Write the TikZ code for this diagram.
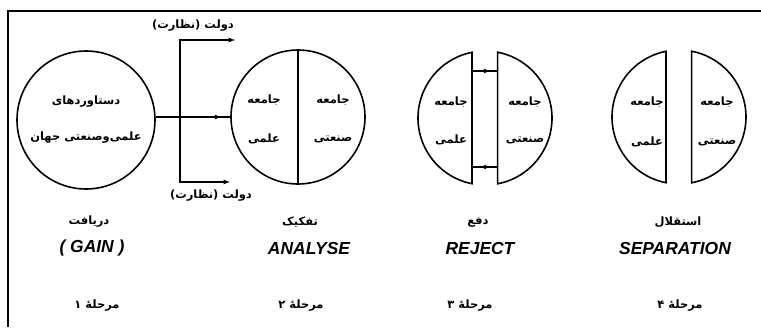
\documentclass[tikz,border=0pt]{standalone}
\usepackage{fontspec}
\newfontfamily\arabicfont[Script=Arabic]{DejaVu Sans}
\newfontfamily\latinfont{Liberation Sans}
\TeXXeTstate=1
\usetikzlibrary{decorations.markings}
\newcommand\rl[1]{\beginR #1\endR}

\begin{document}
\begin{tikzpicture}[x=1bp,y=-1bp,line width=1.2pt,
  fa/.style={font=\arabicfont\bfseries\fontsize{11.5}{13}\selectfont,inner sep=1pt},
  en/.style={font=\latinfont\bfseries\itshape\fontsize{17.5}{20}\selectfont,inner sep=1pt},
  midarr/.style={postaction={decorate},decoration={markings,mark=at position #1 with {\arrow{latex}}}}]
\useasboundingbox (0,0) rectangle (761,327);
\draw (761,11) -- (8,11) -- (8,327);
% stage 1
\node[draw,circle,line width=1.6pt,minimum size=138bp,inner sep=0] (g) at (86,120) {};
\node[fa] (g1) at (86,102) {\rl{دستاوردهای}};
\node[fa] (g2) at (86,138) {\rl{علمی‌وصنعتی جهان}};
% stage 2
\node[draw,circle,line width=1.6pt,minimum size=134bp,inner sep=0] (a) at (298,117) {};
\draw (a.north) -- (a.south);
\node[fa] (a1) at (264,100) {\rl{جامعه}};
\node[fa] (a2) at (264,139) {\rl{علمی}};
\node[fa] (a3) at (333,100) {\rl{جامعه}};
\node[fa] (a4) at (333,139) {\rl{صنعتی}};
\draw[midarr=.88] (g.east |- a) -- (a);
\coordinate (t) at (180,40); \coordinate (ta) at (235,40);
\coordinate (b) at (180,182); \coordinate (ba) at (230,182);
\draw[latex-latex] (ta) -- (t) -- (b) -- (ba);
\node[fa] (d1) at (193,26) {\rl{دولت (نظارت)}};
\node[fa] (d2) at (211,196) {\rl{دولت (نظارت)}};
% stage 3
\draw[line width=1.6pt] (485,118) ++(101.2:67) arc[start angle=101.2,end angle=258.8,radius=67] -- cycle;
\draw[line width=1.6pt] (485,118) ++(79.2:67) arc[start angle=79.2,end angle=-79.2,radius=67] -- cycle;
\coordinate (r1) at (472,71); \coordinate (r2) at (498,71);
\coordinate (r3) at (472,167); \coordinate (r4) at (498,167);
\draw[midarr=.7] (r1) -- (r2);
\draw[midarr=.7] (r4) -- (r3);
\node[fa] (j1) at (451,102) {\rl{جامعه}};
\node[fa] (j2) at (451,140) {\rl{علمی}};
\node[fa] (j3) at (525,102) {\rl{جامعه}};
\node[fa] (j4) at (525,140) {\rl{صنعتی}};
% stage 4
\draw[line width=1.6pt] (679,117) ++(101.2:67) arc[start angle=101.2,end angle=258.8,radius=67] -- cycle;
\draw[line width=1.6pt] (679,117) ++(79.2:67) arc[start angle=79.2,end angle=-79.2,radius=67] -- cycle;
\node[fa] (s1) at (647,102) {\rl{جامعه}};
\node[fa] (s2) at (647,142) {\rl{علمی}};
\node[fa] (s3) at (717,102) {\rl{جامعه}};
\node[fa] (s4) at (717,142) {\rl{صنعتی}};
% labels
\node[fa] (l1) at (89,222) {\rl{دریافت}};
\node[en] (e1) at (92,248) {( GAIN )};
\node[fa] (m1) at (97,306) {\rl{مرحلهٔ ۱}};
\node[fa] (l2) at (300,222) {\rl{تفکیک}};
\node[en] (e2) at (309,248) {ANALYSE};
\node[fa] (m2) at (301,306) {\rl{مرحلهٔ ۲}};
\node[fa] (l3) at (478,222) {\rl{دفع}};
\node[en] (e3) at (480,248) {REJECT};
\node[fa] (m3) at (470,306) {\rl{مرحلهٔ ۳}};
\node[fa] (l4) at (678,222) {\rl{استقلال}};
\node[en] (e4) at (675,248) {SEPARATION};
\node[fa] (m4) at (680,306) {\rl{مرحلهٔ ۴}};
\end{tikzpicture}
\end{document}
